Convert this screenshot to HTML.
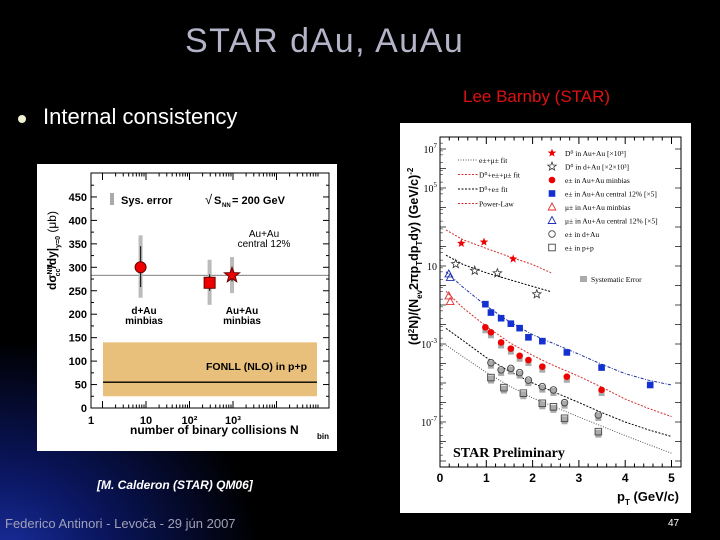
<!DOCTYPE html>
<html><head><meta charset="utf-8"><style>
html,body{margin:0;padding:0;width:720px;height:540px;overflow:hidden;background:#000}
#slide{position:relative;width:720px;height:540px;background:radial-gradient(ellipse 260px 220px at 0px 560px,#1a2fa0 0%,#0a1660 40%,#000 100%)}
.t{position:absolute;white-space:nowrap}
</style></head><body>
<div id="slide">
<div class="t" style="left:185px;top:22px;font:34px 'Liberation Sans',sans-serif;color:#b4b4c8;letter-spacing:1.5px">STAR dAu, AuAu</div>
<div class="t" style="left:18px;top:115px;width:8px;height:8px;border-radius:50%;background:#f0f0d0"></div>
<div class="t" style="left:43px;top:104px;font:22px 'Liberation Sans',sans-serif;color:#fff">Internal consistency</div>
<div class="t" style="left:463px;top:87px;font:17px 'Liberation Sans',sans-serif;color:#e01010">Lee Barnby (STAR)</div>
<div class="t" style="left:97px;top:478px;font:bold italic 12px 'Liberation Sans',sans-serif;color:#fff">[M. Calderon (STAR) QM06]</div>
<div class="t" style="left:5px;top:516px;font:13px 'Liberation Sans',sans-serif;color:#a0a0b8">Federico Antinori - Levoča - 29 jún 2007</div>
<div class="t" style="left:668px;top:518px;font:10px 'Liberation Sans',sans-serif;color:#fff">47</div>
<svg id="svg" width="720" height="540" style="position:absolute;left:0;top:0"></svg>
</div>
<script>
// ---- left chart data ----
const leftYTicks=[0,50,100,150,200,250,300,350,400,450];
const leftXDecades=[1,10,100,1000];
const leftXLabels=['1','10','10²','10³'];
const leftNames=['dAu-minbias','AuAu-minbias','AuAu-central'];
const leftNbin=[7.5,290,950];
const leftVal=[300,267,283];
const leftStatLo=[258,250,270];
const leftStatHi=[345,285,296];
const leftSysLo=[235,220,245];
const leftSysHi=[368,316,322];
const avgLine=283;
const fonllLo=25, fonllHi=140, fonllCentral=55;
// ---- right chart data ----
const rXTicks=[0,1,2,3,4,5];
const rYLabelExp=[7,5,1,-3,-7];
const d0AuAuPt=[0.46,0.95,1.58]; const d0AuAuV=[145,170,23];
const d0dAuPt=[0.34,0.75,1.24,2.09]; const d0dAuV=[12.6,5.8,4.3,0.36];
const muCentPt=[0.19,0.22]; const muCentV=[3.9,2.6];
const muMinPt=[0.19,0.22]; const muMinV=[0.29,0.15];
const eCentPt=[0.98,1.1,1.32,1.53,1.72,1.91,2.21,2.74,3.49,4.54];
const eCentV=[0.11,0.041,0.021,0.011,0.0065,0.0022,0.0014,3.7e-4,6.2e-5,7.9e-6];
const eMinPt=[0.98,1.1,1.32,1.53,1.72,1.91,2.21,2.74,3.49];
const eMinV=[0.0072,0.004,0.0012,5.8e-4,2.5e-4,1.5e-4,6.9e-5,2.1e-5,4.4e-6];
const edAuPt=[1.1,1.32,1.53,1.72,1.91,2.21,2.45,2.69,3.42];
const edAuV=[1.1e-4,4.7e-5,5.6e-5,3.4e-5,1.4e-5,6.5e-6,4.4e-6,9.8e-7,2.3e-7];
const eppPt=[1.1,1.38,1.8,2.21,2.45,2.69,3.42];
const eppV=[1.9e-5,5.8e-6,3.0e-6,9.1e-7,6.0e-7,1.55e-7,3.2e-8];
const fitPt=[0.13,0.5,1,1.5,2,2.4,3,3.5,4,4.5,5];
const fitD0AuAu=[700,220,80,30,12,4.5,null,null,null,null,null];
const fitD0dAu=[36,12,4.5,2,0.9,0.48,null,null,null,null,null];
const fitECent=[5.1,0.8,0.09,0.014,0.003,0.0012,3e-4,9e-5,3e-5,1.4e-5,7.9e-6];
const fitEMin=[0.5,0.07,0.008,0.0012,2.6e-4,9e-5,2.2e-5,6e-6,1.5e-6,5e-7,1.9e-7];
const fitEdAu=[0.0063,0.0015,2e-4,4e-5,1e-5,4e-6,1e-6,3e-7,1e-7,4e-8,1.8e-8];
const fitEpp=[8.9e-4,2.2e-4,3.5e-5,7e-6,1.7e-6,7e-7,1.8e-7,6e-8,2e-8,7e-9,2.5e-9];

const NS='http://www.w3.org/2000/svg';
const svg=document.getElementById('svg');
function mk(tag,attrs,parent){const e=document.createElementNS(NS,tag);for(const k in attrs)e.setAttribute(k,attrs[k]);(parent||svg).appendChild(e);return e;}
function txt(x,y,s,attrs,parent){const e=mk('text',Object.assign({x:x,y:y},attrs),parent);e.textContent=s;return e;}

// ===== LEFT CHART =====
const L=mk('g',{});


const lb=mk('rect',{x:37,y:164,width:300,height:287,fill:'#fff'},L);


const lx0=91,lx1=329,ly0=408,ly1=173;
const lsx=v=>146+(Math.log10(v)-1)*43.5;
const lsy=v=>408-v*(23.45/50);
const band=mk('rect',{x:103,y:lsy(fonllHi),width:214,height:lsy(fonllLo)-lsy(fonllHi),fill:'#e8c07c'},L);


const fl=mk('line',{x1:103,x2:317,y1:lsy(fonllCentral),y2:lsy(fonllCentral),stroke:'#000','stroke-width':1.3},L);


txt(307,370,'FONLL (NLO) in p+p',{'font-family':'Liberation Sans','font-size':10.5,'font-weight':'bold','text-anchor':'end'},L);
const al=mk('line',{x1:lx0,x2:lx1,y1:lsy(avgLine),y2:lsy(avgLine),stroke:'#555','stroke-width':0.8},L);


mk('rect',{x:lx0,y:ly1,width:lx1-lx0,height:ly0-ly1,fill:'none',stroke:'#000','stroke-width':1},L);
leftYTicks.forEach(v=>{const y=lsy(v);mk('line',{x1:lx0,x2:lx0+6,y1:y,y2:y,stroke:'#000'},L);mk('line',{x1:lx1,x2:lx1-6,y1:y,y2:y,stroke:'#000'},L);
 mk('line',{x1:lx0,x2:lx0+3,y1:lsy(v+25),y2:lsy(v+25),stroke:'#000'},L);mk('line',{x1:lx1,x2:lx1-3,y1:lsy(v+25),y2:lsy(v+25),stroke:'#000'},L);
 const t=txt(lx0-4,y+4,String(v),{'font-family':'Liberation Sans','font-size':11,'font-weight':'bold','text-anchor':'end'},L);
 });
leftXDecades.forEach((d,i)=>{for(let k=1;k<10;k++){const v=d*k;const x=lsx(v);if(x<lx0||x>lx1)continue;const h=k==1?7:3.5;mk('line',{x1:x,x2:x,y1:ly0,y2:ly0-h,stroke:'#000'},L);mk('line',{x1:x,x2:x,y1:ly1,y2:ly1+h,stroke:'#000'},L);}
 const t=txt(i==0?lx0:lsx(d),ly0+16,leftXLabels[i],{'font-family':'Liberation Sans','font-size':11,'font-weight':'bold','text-anchor':'middle'},L);
 });
[10000].forEach(v=>{for(let k=1;k<10;k++){const x=lsx(v*k);if(x<lx1){mk('line',{x1:x,x2:x,y1:ly0,y2:ly0-(k==1?7:3.5),stroke:'#000'},L);mk('line',{x1:x,x2:x,y1:ly1,y2:ly1+(k==1?7:3.5),stroke:'#000'},L);}}});
const xt=txt(130,434,'number of binary collisions N',{'font-family':'Liberation Sans','font-size':12,'font-weight':'bold'},L);

txt(317,439,'bin',{'font-family':'Liberation Sans','font-size':8,'font-weight':'bold'},L);
const yt=mk('text',{transform:'translate(56,290) rotate(-90)','font-family':'Liberation Sans','font-size':12,'font-weight':'bold'},L);

yt.innerHTML='dσ<tspan dy="-4" font-size="7">NN</tspan><tspan dy="8" dx="-12" font-size="7">cc</tspan><tspan dy="-4">/dy|</tspan><tspan dy="4" font-size="7">y=0</tspan><tspan dy="-4" font-weight="normal"> (μb)</tspan>';
mk('rect',{x:110,y:193,width:4,height:12,fill:'#aaa'},L);
txt(121,204,'Sys. error',{'font-family':'Liberation Sans','font-size':11,'font-weight':'bold'},L);
txt(205,204,'√',{'font-family':'Liberation Sans','font-size':13},L);
txt(214,204,'S',{'font-family':'Liberation Sans','font-size':11,'font-weight':'bold'},L);
txt(222,207,'NN',{'font-family':'Liberation Sans','font-size':6,'font-weight':'bold'},L);
txt(232,204,'= 200 GeV',{'font-family':'Liberation Sans','font-size':11,'font-weight':'bold'},L);
txt(264,237,'Au+Au',{'font-family':'Liberation Sans','font-size':10,'text-anchor':'middle'},L);
txt(264,247,'central 12%',{'font-family':'Liberation Sans','font-size':10,'text-anchor':'middle'},L);
txt(144,314,'d+Au',{'font-family':'Liberation Sans','font-size':10,'font-weight':'bold','text-anchor':'middle'},L);
txt(144,324,'minbias',{'font-family':'Liberation Sans','font-size':10,'font-weight':'bold','text-anchor':'middle'},L);
txt(242,314,'Au+Au',{'font-family':'Liberation Sans','font-size':10,'font-weight':'bold','text-anchor':'middle'},L);
txt(242,324,'minbias',{'font-family':'Liberation Sans','font-size':10,'font-weight':'bold','text-anchor':'middle'},L);
function starPath(cx,cy,r){let p='';for(let i=0;i<10;i++){const a=-Math.PI/2+i*Math.PI/5;const rr=i%2?r*0.42:r;p+=(i?'L':'M')+(cx+rr*Math.cos(a)).toFixed(1)+','+(cy+rr*Math.sin(a)).toFixed(1);}return p+'Z';}
leftNames.forEach((n,i)=>{const x=lsx(leftNbin[i]);
 mk('line',{x1:x,x2:x,y1:lsy(leftSysLo[i]),y2:lsy(leftSysHi[i]),stroke:'#bbb','stroke-width':4},L);
 mk('line',{x1:x,x2:x,y1:lsy(leftStatLo[i]),y2:lsy(leftStatHi[i]),stroke:'#222','stroke-width':1.2},L);
 const y=lsy(leftVal[i]);let m;
 if(i==0)m=mk('circle',{cx:x,cy:y,r:5.5,fill:'#e00',stroke:'#600'},L);
 else if(i==1)m=mk('rect',{x:x-5.5,y:y-5.5,width:11,height:11,fill:'#e00',stroke:'#600'},L);
 else m=mk('path',{d:starPath(x,y,8),fill:'#e00',stroke:'#600'},L);
 
 });

// ===== RIGHT CHART =====
const R=mk('g',{});


const rb=mk('rect',{x:400,y:123,width:291,height:390,fill:'#fff'},R);


const rx0=440,rx1=681,ry0=467,ry1=137;
const rsx=v=>440+v*46.3;
const rsy=v=>266-(Math.log10(v)-1)*19.5;
mk('rect',{x:rx0,y:ry1,width:rx1-rx0,height:ry0-ry1,fill:'none',stroke:'#000','stroke-width':1},R);
for(let e=-9;e<=7;e++){const y=rsy(Math.pow(10,e));if(y>ry0||y<ry1)continue;mk('line',{x1:rx0,x2:rx0+6,y1:y,y2:y,stroke:'#000','stroke-width':0.7},R);mk('line',{x1:rx1,x2:rx1-6,y1:y,y2:y,stroke:'#000','stroke-width':0.7},R);
 for(let k=2;k<10;k+=3){const yy=rsy(k*Math.pow(10,e));if(yy<ry0&&yy>ry1){mk('line',{x1:rx0,x2:rx0+3,y1:yy,y2:yy,stroke:'#000','stroke-width':0.5},R);}}}
rYLabelExp.forEach(e=>{const y=rsy(Math.pow(10,e));const t=mk('text',{x:rx0-3,y:y+4,'font-family':'Liberation Serif','font-size':10,'text-anchor':'end'},R);
 t.innerHTML=e==1?'10':'10<tspan dy="-5" font-size="7">'+e+'</tspan>';
 });
rXTicks.forEach(v=>{const x=rsx(v);mk('line',{x1:x,x2:x,y1:ry0,y2:ry0-7,stroke:'#000'},R);mk('line',{x1:x,x2:x,y1:ry1,y2:ry1+7,stroke:'#000'},R);
 if(v<5){for(let k=1;k<5;k++){const xx=rsx(v+k*0.2);mk('line',{x1:xx,x2:xx,y1:ry0,y2:ry0-3.5,stroke:'#000'},R);mk('line',{x1:xx,x2:xx,y1:ry1,y2:ry1+3.5,stroke:'#000'},R);}}
 const t=txt(x,ry0+15,String(v),{'font-family':'Liberation Sans','font-size':12,'font-weight':'bold','text-anchor':'middle'},R);
 });
const rxt=mk('text',{x:617,y:501,'font-family':'Liberation Sans','font-size':13,'font-weight':'bold'},R);
rxt.innerHTML='p<tspan dy="4" font-size="8">T</tspan><tspan dy="-4"> (GeV/c)</tspan>';

const ryt=mk('text',{transform:'translate(418,345) rotate(-90)','font-family':'Liberation Sans','font-size':12.5,'font-weight':'bold'},R);
ryt.innerHTML='(d<tspan dy="-4" font-size="8">2</tspan><tspan dy="4">N)/(N</tspan><tspan dy="4" font-size="8">ev</tspan><tspan dy="-4">2πp</tspan><tspan dy="4" font-size="8">T</tspan><tspan dy="-4">dp</tspan><tspan dy="4" font-size="8">T</tspan><tspan dy="-4">dy) (GeV/c)</tspan><tspan dy="-5" font-size="8">-2</tspan>';

const sp=txt(453,457,'STAR Preliminary',{'font-family':'Liberation Serif','font-size':14,'font-weight':'bold'},R);

function fit(vals,color,dash,name){let d='';vals.forEach((v,i)=>{if(v==null)return;d+=(d?'L':'M')+rsx(fitPt[i]).toFixed(1)+','+rsy(v).toFixed(1);});
 const p=mk('path',{d:d,fill:'none',stroke:color,'stroke-width':1,'stroke-dasharray':dash},R);
 }
fit(fitD0AuAu,'#d03030','2,1.5','fit-d0-auau');
fit(fitD0dAu,'#000','2,1.5','fit-d0-dau');
fit(fitECent,'#2030a0','3,1.5,1,1.5','fit-e-central');
fit(fitEMin,'#d03030','2,1.5','fit-e-minbias');
fit(fitEdAu,'#000','2,1.5','fit-e-dau');
fit(fitEpp,'#555','1,1.5','fit-e-pp');
function marker(type,x,y,parent){
 if(type=='sf')return mk('path',{d:starPath(x,y,4.5),fill:'#e00'},parent);
 if(type=='so')return mk('path',{d:starPath(x,y,4.5),fill:'none',stroke:'#333','stroke-width':0.8},parent);
 if(type=='cf')return mk('circle',{cx:x,cy:y,r:3.3,fill:'#e00'},parent);
 if(type=='co')return mk('circle',{cx:x,cy:y,r:3.3,fill:'none',stroke:'#444','stroke-width':0.9},parent);
 if(type=='qf')return mk('rect',{x:x-3.3,y:y-3.3,width:6.6,height:6.6,fill:'#1530d0'},parent);
 if(type=='qo')return mk('rect',{x:x-3.3,y:y-3.3,width:6.6,height:6.6,fill:'none',stroke:'#444','stroke-width':0.9},parent);
 if(type=='tr')return mk('path',{d:`M${x},${y-4}L${x+3.8},${y+3}L${x-3.8},${y+3}Z`,fill:'none',stroke:'#e03030','stroke-width':0.9},parent);
 if(type=='tb')return mk('path',{d:`M${x},${y-4}L${x+3.8},${y+3}L${x-3.8},${y+3}Z`,fill:'none',stroke:'#2030b0','stroke-width':0.9},parent);
}
function series(pts,vals,type,name,sys){pts.forEach((p,i)=>{const x=rsx(p),y=rsy(vals[i]);
 if(sys){const s=mk('rect',{x:x-3,y:y-2,width:6,height:8,fill:'#aaa'},R);}
 const m=marker(type,x,y,R);});}
series(d0AuAuPt,d0AuAuV,'sf','d0-auau');
series(d0dAuPt,d0dAuV,'so','d0-dau');
series(muCentPt,muCentV,'tb','mu-central');
series(muMinPt,muMinV,'tr','mu-minbias');
series(eCentPt,eCentV,'qf','e-central');
series(eMinPt,eMinV,'cf','e-minbias',true);
series(edAuPt,edAuV,'co','e-dau',true);
series(eppPt,eppV,'qo','e-pp',true);
// legends
const fitLeg=[['e±+μ± fit','#555','1,1.5'],['D⁰+e±+μ± fit','#d03030','2,1.5'],['D⁰+e± fit','#000','2,1.5'],['Power-Law','#d03030','2,1.5']];
fitLeg.forEach((f,i)=>{const y=160+i*14.5;mk('line',{x1:458,x2:478,y1:y,y2:y,stroke:f[1],'stroke-dasharray':f[2]},R);
 const t=txt(479,y+3,f[0],{'font-family':'Liberation Serif','font-size':7.5},R);});
const mLeg=[['sf','D⁰ in Au+Au [×10³]'],['so','D⁰ in d+Au [×2×10³]'],['cf','e± in Au+Au minbias'],['qf','e± in Au+Au central 12% [×5]'],['tr','μ± in Au+Au minbias'],['tb','μ± in Au+Au central 12% [×5]'],['co','e± in d+Au'],['qo','e± in p+p']];
mLeg.forEach((m,i)=>{const y=153+i*13.5;marker(m[0],552,y,R);
 const t=txt(565,y+3,m[1],{'font-family':'Liberation Serif','font-size':7.5},R);});
mk('rect',{x:580,y:276,width:7,height:6,fill:'#aaa'},R);
txt(591,282,'Systematic Error',{'font-family':'Liberation Serif','font-size':7.5},R);
</script>
</body></html>
